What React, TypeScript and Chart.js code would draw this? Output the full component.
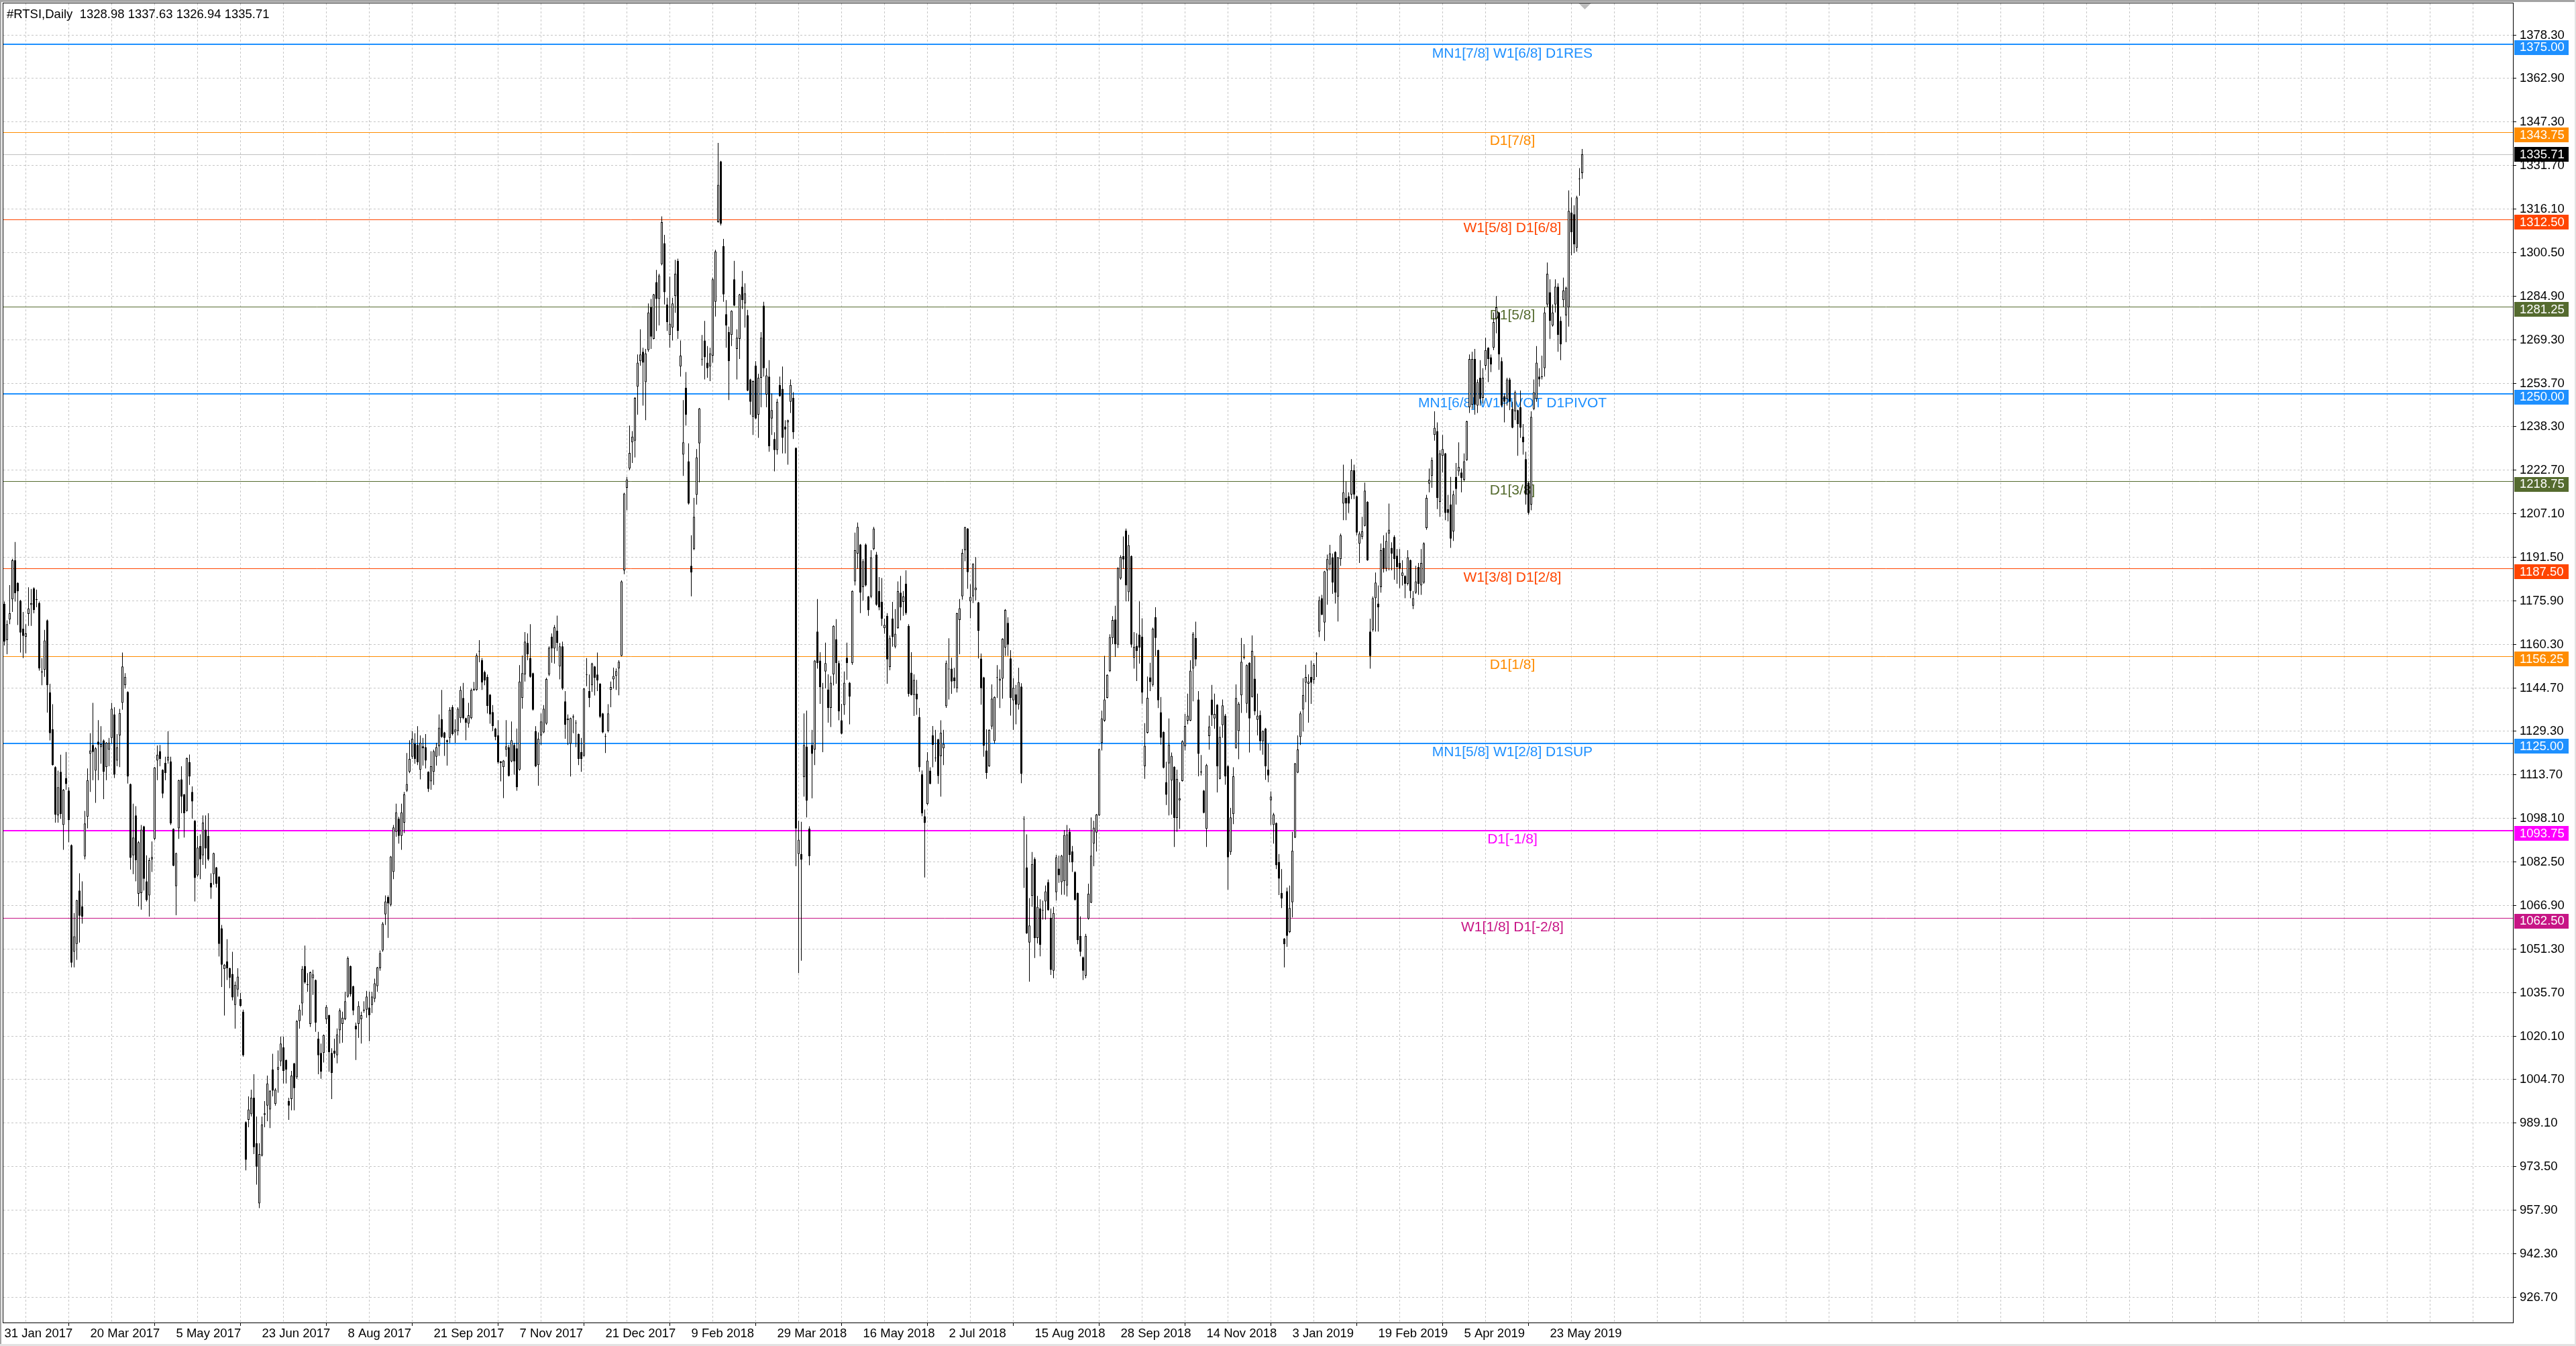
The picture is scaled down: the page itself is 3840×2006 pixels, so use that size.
import { useEffect, useRef } from "react";
import { Chart, registerables } from "chart.js";

Chart.register(...registerables);

// ---------- data ----------
const symbol = "#RTSI";
const period = "Daily";

// daily candles, 31 Jan 2017 .. mid Jun 2019
const opens = [
  1174.9, 1161.9, 1169.3, 1176.5, 1190.5, 1182.4, 1176.0, 1166.0, 1163.1, 1171.3, // 0
  1174.5, 1180.4, 1176.5, 1175.2, 1150.4, 1151.3, 1169.0, 1143.2, 1130.0, 1116.5, // 10
  1099.2, 1114.8, 1095.8, 1112.6, 1108.1, 1088.6, 1050.4, 1053.2, 1072.3, 1066.7, // 20
  1084.5, 1098.7, 1121.2, 1124.4, 1115.2, 1125.6, 1123.6, 1126.0, 1116.5, 1122.7, // 30
  1126.9, 1135.3, 1118.8, 1127.8, 1139.5, 1145.8, 1143.4, 1110.4, 1084.9, 1099.2, // 40
  1071.2, 1071.4, 1095.3, 1075.6, 1070.6, 1083.5, 1090.8, 1118.8, 1122.2, 1115.5, // 50
  1118.0, 1118.8, 1118.5, 1094.4, 1073.9, 1094.6, 1112.1, 1106.7, 1100.8, 1118.2, // 60
  1107.6, 1097.3, 1077.8, 1088.2, 1084.9, 1094.1, 1091.9, 1075.1, 1078.2, 1080.6, // 70
  1077.3, 1058.8, 1044.2, 1047.0, 1044.5, 1042.5, 1031.4, 1036.9, 1033.5, 1029.0, // 80
  989.5, 990.3, 992.3, 998.2, 981.9, 960.4, 977.5, 992.1, 995.4, 994.0, // 90
  1008.3, 996.0, 1008.3, 1011.2, 1016.2, 1011.7, 997.0, 997.7, 1010.5, 1005.5, // 100
  1025.6, 1031.9, 1045.3, 1038.6, 1024.6, 1041.0, 1040.3, 1019.3, 1014.2, 1014.2, // 110
  1026.3, 1027.7, 1014.2, 1015.0, 1013.4, 1022.3, 1024.6, 1026.3, 1034.4, 1045.3, // 120
  1038.1, 1024.0, 1024.6, 1026.3, 1029.4, 1029.7, 1030.5, 1031.4, 1033.6, 1038.1, // 130
  1044.5, 1050.9, 1063.8, 1070.0, 1067.2, 1079.0, 1093.3, 1098.0, 1091.9, 1096.6, // 140
  1108.1, 1114.8, 1120.2, 1124.9, 1124.4, 1115.5, 1123.9, 1123.6, 1114.8, 1111.4, // 150
  1114.8, 1120.2, 1123.9, 1133.6, 1128.9, 1126.1, 1126.9, 1137.9, 1128.9, 1129.4, // 160
  1134.0, 1141.2, 1134.0, 1132.0, 1134.0, 1144.0, 1144.1, 1157.8, 1154.7, 1150.5, // 170
  1148.8, 1142.4, 1136.2, 1130.3, 1127.8, 1118.5, 1116.5, 1122.7, 1123.6, 1118.5, // 180
  1124.4, 1123.2, 1115.5, 1141.2, 1149.6, 1160.9, 1155.5, 1150.1, 1129.4, 1117.2, // 190
  1127.8, 1128.9, 1132.0, 1149.6, 1163.1, 1158.9, 1165.3, 1152.5, 1159.7, 1140.0, // 200
  1133.3, 1124.9, 1134.3, 1132.1, 1128.3, 1121.9, 1120.5, 1149.4, 1143.7, 1145.8, // 210
  1152.5, 1149.6, 1146.3, 1135.7, 1127.6, 1129.4, 1144.1, 1147.9, 1149.1, 1151.8, // 220
  1156.3, 1186.9, 1216.4, 1223.3, 1232.7, 1233.3, 1252.6, 1261.7, 1265.1, 1254.2, // 230
  1265.7, 1281.0, 1269.7, 1290.0, 1284.0, 1296.4, 1303.9, 1282.0, 1271.1, 1273.7, // 240
  1285.0, 1297.6, 1259.8, 1228.3, 1252.2, 1225.9, 1188.5, 1194.5, 1213.9, 1232.3, // 250
  1262.3, 1269.1, 1261.2, 1259.8, 1263.7, 1283.0, 1311.5, 1333.2, 1302.9, 1278.5, // 260
  1272.1, 1271.1, 1291.0, 1266.1, 1269.7, 1288.4, 1282.4, 1278.1, 1255.2, 1241.8, // 270
  1260.1, 1242.6, 1255.8, 1281.6, 1249.8, 1256.2, 1241.2, 1233.9, 1229.9, 1253.2, // 280
  1251.8, 1238.3, 1239.8, 1247.2, 1248.6, 1230.7, 1085.4, 1085.4, 1112.9, 1123.8, // 290
  1094.5, 1124.4, 1122.8, 1165.0, 1154.6, 1144.9, 1150.7, 1144.3, 1137.7, 1149.7, // 300
  1162.2, 1153.7, 1133.2, 1138.7, 1155.6, 1146.7, 1153.7, 1182.9, 1192.9, 1196.1, // 310
  1180.9, 1196.1, 1177.5, 1177.5, 1194.5, 1192.5, 1179.5, 1175.6, 1166.2, 1170.6, // 320
  1152.3, 1169.6, 1159.6, 1166.2, 1178.9, 1175.6, 1182.1, 1167.0, 1150.3, 1142.3, // 330
  1142.7, 1134.4, 1113.9, 1098.9, 1103.3, 1115.2, 1127.8, 1119.6, 1126.4, 1120.4, // 340
  1123.2, 1138.3, 1151.5, 1151.7, 1148.6, 1144.7, 1169.1, 1177.6, 1194.1, 1201.8, // 350
  1175.8, 1177.6, 1179.8, 1175.4, 1155.3, 1148.6, 1122.4, 1116.8, 1131.0, 1125.8, // 360
  1148.4, 1147.4, 1148.1, 1159.3, 1168.1, 1155.4, 1140.4, 1142.5, 1138.8, 1145.3, // 370
  1097.9, 1080.6, 1053.7, 1070.4, 1083.6, 1055.3, 1065.9, 1065.3, 1068.4, 1075.3, // 380
  1062.6, 1043.6, 1071.7, 1080.2, 1075.3, 1075.7, 1074.1, 1093.4, 1086.3, 1079.0, // 390
  1071.4, 1056.1, 1048.5, 1041.9, 1062.3, 1068.0, 1089.1, 1093.1, 1099.2, 1125.1, // 400
  1133.1, 1141.3, 1150.8, 1162.7, 1169.3, 1160.3, 1184.0, 1192.0, 1201.1, 1179.1, // 410
  1192.0, 1155.6, 1159.9, 1163.9, 1163.2, 1116.8, 1128.8, 1148.6, 1145.9, 1170.1, // 420
  1158.3, 1136.1, 1129.0, 1111.1, 1117.8, 1111.7, 1116.6, 1098.3, 1104.6, 1111.5, // 430
  1123.9, 1133.1, 1133.1, 1151.7, 1162.7, 1140.7, 1114.6, 1108.1, 1094.4, 1127.6, // 440
  1140.7, 1133.9, 1138.8, 1112.3, 1131.5, 1134.9, 1116.8, 1086.1, 1099.7, 1123.3, // 450
  1129.4, 1142.2, 1155.7, 1139.2, 1153.8, 1141.6, 1148.1, 1133.4, 1135.1, 1125.7, // 460
  1130.3, 1115.6, 1104.6, 1095.8, 1096.5, 1082.6, 1071.5, 1055.1, 1072.1, 1057.5, // 470
  1068.1, 1091.3, 1114.5, 1127.2, 1137.1, 1146.7, 1146.3, 1148.7, 1147.7, 1156.8, // 480
  1165.0, 1176.9, 1168.2, 1186.9, 1188.9, 1191.5, 1193.5, 1177.5, 1190.9, 1210.8, // 490
  1212.8, 1213.4, 1214.0, 1222.7, 1213.4, 1196.4, 1198.8, 1202.8, 1211.4, 1165.0, // 500
  1165.6, 1176.9, 1175.0, 1180.9, 1194.9, 1187.5, 1200.0, 1194.9, 1198.8, 1192.1, // 510
  1189.5, 1184.9, 1184.9, 1182.1, 1190.5, 1174.2, 1178.9, 1188.1, 1181.5, 1182.5, // 520
  1202.0, 1217.9, 1220.7, 1235.3, 1236.7, 1211.4, 1227.9, 1228.7, 1208.8, 1210.4, // 530
  1200.8, 1220.3, 1222.3, 1221.9, 1219.3, 1226.3, 1245.2, 1246.2, 1262.5, 1245.8, // 540
  1255.8, 1248.6, 1260.1, 1266.5, 1263.1, 1266.5, 1277.0, 1279.1, 1261.7, 1249.2, // 550
  1248.2, 1255.2, 1244.6, 1243.8, 1244.2, 1245.2, 1234.7, 1226.7, 1218.3, 1210.4, // 560
  1244.6, 1248.2, 1256.2, 1256.0, 1259.2, 1282.0, 1286.4, 1274.5, 1282.0, 1288.4, // 570
  1276.1, 1283.6, 1278.1, 1281.0, 1314.9, 1314.3, 1302.3, 1326.8, 1328.98, // 580
];

const highs = [
  1175.7, 1169.0, 1181.6, 1191.0, 1197.0, 1182.6, 1176.3, 1172.0, 1167.6, 1180.8, // 0
  1180.2, 1180.8, 1180.0, 1175.7, 1155.5, 1165.6, 1169.3, 1146.3, 1139.0, 1116.8, // 10
  1115.2, 1120.9, 1108.6, 1121.9, 1109.3, 1088.8, 1064.3, 1069.0, 1078.5, 1075.6, // 20
  1100.8, 1116.0, 1128.6, 1139.5, 1123.6, 1133.3, 1131.1, 1126.4, 1125.4, 1126.9, // 30
  1139.5, 1137.9, 1128.3, 1137.3, 1157.5, 1150.1, 1143.6, 1110.6, 1103.4, 1102.5, // 40
  1090.0, 1095.8, 1095.5, 1084.9, 1084.0, 1089.9, 1116.5, 1124.2, 1124.4, 1115.7, // 50
  1120.2, 1129.3, 1120.2, 1094.6, 1085.9, 1112.0, 1116.8, 1106.9, 1119.9, 1121.0, // 60
  1109.6, 1097.5, 1091.9, 1092.4, 1099.2, 1099.2, 1100.0, 1078.5, 1085.9, 1080.8, // 70
  1077.5, 1060.0, 1046.0, 1054.9, 1044.7, 1050.4, 1039.8, 1044.5, 1035.7, 1029.7, // 80
  989.7, 998.7, 1001.1, 1006.6, 991.5, 981.9, 991.5, 997.0, 1006.1, 1000.9, // 90
  1013.9, 1001.6, 1015.1, 1020.1, 1020.1, 1011.9, 998.2, 1007.8, 1010.7, 1026.0, // 100
  1031.4, 1045.3, 1052.6, 1042.8, 1043.3, 1044.0, 1040.5, 1021.8, 1017.6, 1020.8, // 110
  1031.4, 1027.9, 1015.9, 1019.3, 1023.0, 1030.2, 1029.0, 1036.1, 1048.7, 1045.5, // 120
  1038.3, 1025.1, 1032.7, 1029.0, 1032.7, 1036.4, 1036.1, 1036.1, 1040.8, 1045.0, // 130
  1050.9, 1061.0, 1070.6, 1070.6, 1084.7, 1095.8, 1103.4, 1098.7, 1103.4, 1107.6, // 140
  1121.5, 1126.1, 1129.4, 1128.6, 1131.1, 1127.8, 1126.9, 1128.3, 1115.0, 1122.2, // 150
  1122.7, 1125.2, 1135.3, 1144.1, 1129.1, 1126.3, 1137.9, 1138.7, 1133.6, 1137.9, // 160
  1145.4, 1146.6, 1134.2, 1139.5, 1144.6, 1147.0, 1157.2, 1161.9, 1155.5, 1151.0, // 170
  1149.6, 1142.6, 1138.7, 1130.5, 1133.3, 1118.7, 1119.0, 1133.3, 1124.4, 1132.8, // 180
  1125.2, 1130.3, 1153.0, 1156.4, 1164.8, 1164.3, 1167.6, 1150.3, 1131.1, 1128.9, // 190
  1135.7, 1138.7, 1148.5, 1159.7, 1164.3, 1167.3, 1170.7, 1160.9, 1161.4, 1143.7, // 200
  1135.3, 1134.2, 1135.3, 1133.3, 1128.5, 1126.9, 1144.8, 1155.5, 1149.6, 1153.8, // 210
  1152.7, 1157.5, 1146.5, 1135.9, 1128.5, 1139.0, 1147.1, 1152.1, 1151.8, 1154.7, // 220
  1183.3, 1214.6, 1220.3, 1238.7, 1236.7, 1248.8, 1264.1, 1273.1, 1266.5, 1266.1, // 230
  1282.4, 1284.0, 1285.8, 1294.4, 1293.0, 1313.5, 1306.9, 1284.4, 1292.0, 1284.4, // 240
  1298.0, 1298.4, 1269.1, 1247.8, 1257.8, 1232.3, 1199.4, 1212.8, 1230.3, 1245.0, // 250
  1271.1, 1276.1, 1267.1, 1266.5, 1291.6, 1301.6, 1339.8, 1333.4, 1305.5, 1283.6, // 260
  1274.1, 1279.9, 1297.6, 1273.1, 1285.8, 1294.0, 1289.6, 1280.1, 1255.4, 1254.8, // 270
  1261.7, 1257.2, 1272.1, 1283.0, 1259.2, 1262.1, 1250.2, 1236.3, 1248.2, 1256.2, // 280
  1259.8, 1240.6, 1240.8, 1255.2, 1250.6, 1230.9, 1097.3, 1096.9, 1135.7, 1136.7, // 290
  1095.3, 1129.8, 1154.8, 1176.6, 1157.6, 1146.6, 1161.0, 1149.7, 1149.1, 1167.2, // 300
  1169.4, 1154.6, 1139.1, 1150.7, 1161.0, 1146.9, 1179.7, 1200.4, 1204.0, 1196.3, // 310
  1190.9, 1196.5, 1177.7, 1194.1, 1202.4, 1193.5, 1184.5, 1184.1, 1169.6, 1171.6, // 320
  1163.6, 1175.6, 1173.0, 1182.9, 1184.9, 1179.5, 1186.9, 1167.6, 1157.6, 1149.7, // 330
  1147.7, 1137.7, 1115.3, 1101.3, 1121.8, 1116.4, 1131.2, 1129.8, 1126.6, 1133.2, // 340
  1129.8, 1154.6, 1162.6, 1155.6, 1152.0, 1171.7, 1176.6, 1194.5, 1202.5, 1202.0, // 350
  1181.9, 1189.4, 1191.6, 1175.6, 1157.1, 1148.8, 1130.0, 1130.0, 1146.1, 1141.8, // 360
  1153.0, 1151.4, 1162.6, 1173.0, 1170.1, 1158.3, 1148.3, 1145.9, 1152.0, 1146.5, // 370
  1098.9, 1092.4, 1069.6, 1086.1, 1084.2, 1070.4, 1069.2, 1068.7, 1074.1, 1076.3, // 380
  1065.9, 1066.5, 1085.1, 1084.8, 1085.1, 1094.0, 1095.8, 1094.6, 1088.3, 1079.2, // 390
  1071.6, 1063.1, 1048.7, 1056.8, 1074.8, 1098.5, 1097.3, 1099.7, 1123.1, 1136.7, // 400
  1156.3, 1149.7, 1164.0, 1170.5, 1174.2, 1188.0, 1192.3, 1199.0, 1201.8, 1199.6, // 410
  1192.2, 1164.8, 1164.4, 1175.8, 1169.7, 1132.2, 1148.9, 1153.8, 1166.4, 1173.7, // 420
  1158.5, 1141.6, 1129.2, 1118.4, 1133.9, 1121.7, 1116.8, 1115.6, 1111.1, 1126.1, // 430
  1135.5, 1142.8, 1154.7, 1164.8, 1168.5, 1143.7, 1120.8, 1108.3, 1117.6, 1134.9, // 440
  1145.9, 1142.8, 1139.0, 1131.0, 1140.7, 1135.5, 1117.2, 1101.9, 1116.4, 1146.1, // 450
  1139.8, 1162.7, 1160.5, 1153.2, 1154.0, 1163.6, 1156.3, 1142.8, 1136.7, 1129.6, // 460
  1130.5, 1124.8, 1107.8, 1100.1, 1096.7, 1085.4, 1080.0, 1055.3, 1073.4, 1074.1, // 470
  1093.3, 1118.0, 1127.8, 1136.4, 1148.3, 1153.1, 1149.7, 1154.6, 1153.7, 1157.6, // 480
  1177.5, 1178.1, 1186.7, 1192.5, 1196.0, 1192.9, 1193.7, 1191.7, 1200.0, 1224.7, // 490
  1218.7, 1214.8, 1226.7, 1224.7, 1213.6, 1200.8, 1206.0, 1218.3, 1211.6, 1169.6, // 500
  1177.5, 1186.1, 1181.5, 1196.5, 1199.4, 1200.4, 1210.8, 1196.9, 1199.4, 1194.5, // 510
  1194.5, 1190.5, 1185.1, 1194.1, 1190.7, 1179.5, 1188.5, 1189.5, 1194.5, 1196.9, // 520
  1213.9, 1223.3, 1227.3, 1243.8, 1239.8, 1229.9, 1235.3, 1228.9, 1213.9, 1220.3, // 530
  1215.4, 1225.3, 1232.7, 1223.3, 1228.7, 1240.4, 1264.1, 1265.1, 1266.1, 1255.2, // 540
  1262.1, 1259.2, 1270.1, 1266.7, 1264.1, 1279.1, 1285.0, 1279.3, 1263.1, 1250.2, // 550
  1255.8, 1255.8, 1247.2, 1251.2, 1244.4, 1251.2, 1239.2, 1229.3, 1218.7, 1243.8, // 560
  1255.2, 1267.1, 1259.2, 1263.7, 1281.0, 1297.0, 1291.0, 1282.0, 1291.0, 1289.6, // 570
  1277.7, 1291.6, 1288.4, 1322.8, 1320.3, 1317.5, 1320.9, 1330.8, 1337.63, // 580
];

const lows = [
  1160.0, 1156.9, 1167.6, 1172.0, 1175.7, 1167.3, 1157.5, 1155.5, 1157.2, 1167.0, // 0
  1167.0, 1171.5, 1173.7, 1151.0, 1145.8, 1148.8, 1136.0, 1126.0, 1117.0, 1096.6, // 10
  1096.6, 1098.0, 1086.9, 1108.4, 1089.6, 1044.8, 1044.8, 1047.5, 1053.7, 1060.5, // 20
  1083.5, 1094.6, 1107.6, 1111.8, 1103.7, 1111.8, 1117.7, 1105.0, 1111.8, 1116.8, // 30
  1124.9, 1112.6, 1116.8, 1116.5, 1137.0, 1144.6, 1110.6, 1079.8, 1078.2, 1075.6, // 40
  1066.7, 1065.5, 1072.3, 1068.4, 1063.0, 1079.0, 1090.3, 1111.8, 1116.8, 1105.4, // 50
  1111.8, 1117.7, 1095.8, 1081.0, 1063.5, 1090.8, 1100.0, 1091.3, 1100.6, 1110.1, // 60
  1098.0, 1068.4, 1077.3, 1076.4, 1081.5, 1080.2, 1083.0, 1069.4, 1074.4, 1073.4, // 70
  1048.7, 1037.8, 1027.6, 1040.3, 1037.4, 1033.0, 1022.9, 1034.4, 1030.8, 1012.9, // 80
  972.2, 987.6, 991.5, 978.0, 967.1, 958.7, 977.2, 987.6, 989.8, 987.3, // 90
  998.7, 995.4, 1000.0, 1009.5, 1003.3, 1003.3, 990.3, 993.7, 993.7, 1004.9, // 100
  1022.9, 1027.6, 1039.0, 1036.1, 1023.5, 1035.0, 1021.8, 1006.6, 1005.0, 1010.8, // 110
  1024.6, 1007.5, 997.7, 1012.5, 1010.5, 1017.6, 1017.9, 1026.0, 1034.0, 1034.4, // 120
  1027.7, 1011.7, 1019.6, 1017.6, 1028.6, 1026.8, 1018.4, 1028.5, 1032.4, 1036.1, // 130
  1043.6, 1050.4, 1060.0, 1055.4, 1066.7, 1076.4, 1091.6, 1089.1, 1086.9, 1092.9, // 140
  1107.6, 1114.3, 1119.4, 1117.7, 1117.2, 1112.1, 1117.0, 1116.0, 1107.6, 1108.4, // 150
  1110.1, 1117.0, 1120.5, 1126.9, 1120.5, 1117.0, 1125.2, 1127.8, 1125.2, 1127.8, // 160
  1132.3, 1133.6, 1126.1, 1130.6, 1133.6, 1143.8, 1143.8, 1154.0, 1144.1, 1145.8, // 170
  1135.7, 1132.0, 1129.4, 1126.1, 1117.7, 1111.4, 1105.4, 1120.2, 1113.1, 1118.2, // 180
  1113.8, 1108.0, 1115.2, 1137.4, 1147.1, 1154.7, 1148.5, 1136.7, 1116.5, 1109.8, // 190
  1124.4, 1128.6, 1131.6, 1149.1, 1153.8, 1153.5, 1158.0, 1147.9, 1144.1, 1126.6, // 200
  1124.4, 1113.1, 1128.6, 1123.6, 1117.2, 1114.8, 1120.2, 1145.4, 1137.9, 1143.4, // 210
  1142.1, 1143.7, 1134.0, 1128.6, 1121.5, 1128.9, 1137.9, 1144.6, 1144.1, 1142.2, // 220
  1156.1, 1185.5, 1208.4, 1222.7, 1225.3, 1227.3, 1242.6, 1260.1, 1245.8, 1240.6, // 230
  1265.1, 1266.1, 1269.5, 1272.5, 1274.5, 1296.0, 1282.0, 1272.5, 1266.5, 1269.1, // 240
  1279.0, 1269.7, 1256.2, 1220.7, 1238.7, 1210.4, 1177.6, 1194.1, 1210.4, 1218.4, // 250
  1260.1, 1255.2, 1255.8, 1254.6, 1261.2, 1277.7, 1311.3, 1310.3, 1283.0, 1266.5, // 260
  1247.8, 1267.1, 1281.4, 1255.2, 1262.5, 1280.4, 1273.7, 1251.0, 1242.6, 1235.3, // 270
  1241.0, 1234.3, 1245.2, 1256.2, 1245.2, 1229.3, 1235.3, 1222.3, 1228.3, 1249.0, // 280
  1228.7, 1228.7, 1224.7, 1243.2, 1233.9, 1081.0, 1042.8, 1047.2, 1105.9, 1098.5, // 290
  1081.4, 1105.3, 1117.2, 1151.7, 1139.1, 1121.8, 1144.7, 1132.4, 1130.8, 1145.7, // 300
  1146.3, 1133.2, 1128.2, 1135.2, 1147.7, 1131.8, 1153.1, 1181.5, 1187.5, 1171.6, // 310
  1176.0, 1181.1, 1170.6, 1176.9, 1194.1, 1174.2, 1172.6, 1167.0, 1164.2, 1146.3, // 320
  1151.1, 1159.6, 1159.0, 1166.0, 1169.0, 1170.6, 1171.0, 1141.7, 1142.1, 1134.8, // 330
  1135.2, 1114.8, 1098.9, 1077.0, 1102.9, 1110.3, 1116.4, 1118.4, 1110.5, 1105.9, // 340
  1117.2, 1137.7, 1140.7, 1142.7, 1144.7, 1143.2, 1156.9, 1176.4, 1190.1, 1180.3, // 350
  1169.7, 1175.2, 1176.1, 1155.4, 1138.8, 1120.2, 1112.3, 1116.6, 1130.0, 1124.9, // 360
  1141.2, 1137.6, 1141.0, 1156.3, 1156.3, 1134.9, 1129.8, 1131.8, 1137.1, 1110.7, // 370
  1073.3, 1056.8, 1039.7, 1066.5, 1048.2, 1053.4, 1048.8, 1061.9, 1061.9, 1065.1, // 380
  1042.1, 1040.9, 1068.7, 1075.1, 1070.8, 1070.8, 1070.2, 1082.4, 1079.0, 1068.7, // 390
  1053.1, 1048.8, 1040.3, 1040.9, 1061.9, 1067.8, 1081.0, 1086.3, 1099.0, 1122.4, // 400
  1132.7, 1141.1, 1150.5, 1160.5, 1155.9, 1159.1, 1183.5, 1187.4, 1175.8, 1175.8, // 410
  1159.3, 1151.7, 1147.3, 1153.5, 1139.2, 1112.3, 1128.5, 1143.7, 1145.3, 1156.3, // 420
  1137.6, 1124.5, 1116.0, 1102.9, 1099.2, 1099.5, 1087.9, 1093.4, 1094.4, 1111.3, // 430
  1122.4, 1131.8, 1132.9, 1140.0, 1152.6, 1113.2, 1113.5, 1099.9, 1087.9, 1122.7, // 440
  1131.2, 1130.2, 1107.4, 1112.1, 1127.0, 1110.2, 1072.6, 1085.1, 1096.1, 1123.1, // 450
  1119.3, 1135.9, 1155.0, 1135.9, 1121.7, 1141.4, 1135.1, 1127.8, 1122.4, 1120.9, // 460
  1111.9, 1111.1, 1095.8, 1089.1, 1080.0, 1070.7, 1066.1, 1044.8, 1052.2, 1057.1, // 470
  1062.7, 1091.1, 1114.3, 1124.4, 1129.2, 1139.7, 1132.4, 1139.1, 1146.3, 1148.7, // 480
  1163.0, 1170.8, 1161.6, 1174.6, 1186.9, 1178.5, 1175.0, 1168.6, 1188.5, 1204.8, // 490
  1204.8, 1207.4, 1212.4, 1212.4, 1199.4, 1189.5, 1198.0, 1202.6, 1190.3, 1151.7, // 500
  1165.0, 1165.0, 1165.0, 1178.9, 1186.1, 1186.5, 1186.9, 1186.9, 1183.5, 1182.1, // 510
  1180.5, 1181.5, 1176.9, 1181.5, 1176.9, 1173.0, 1178.5, 1178.1, 1178.1, 1182.1, // 520
  1201.4, 1214.8, 1216.4, 1233.3, 1208.8, 1206.0, 1221.9, 1204.8, 1204.4, 1194.9, // 530
  1197.4, 1210.4, 1220.7, 1214.8, 1218.7, 1226.1, 1243.2, 1244.6, 1242.6, 1243.2, // 540
  1245.8, 1246.6, 1258.6, 1254.2, 1257.8, 1265.7, 1271.7, 1258.6, 1245.2, 1239.8, // 550
  1245.8, 1244.2, 1237.7, 1240.6, 1227.9, 1234.3, 1228.3, 1210.4, 1206.8, 1208.4, // 560
  1244.2, 1247.2, 1252.6, 1255.2, 1256.2, 1281.0, 1269.7, 1274.1, 1279.1, 1265.1, // 570
  1262.1, 1281.0, 1268.5, 1274.1, 1299.6, 1300.4, 1300.9, 1320.9, 1326.94, // 580
];

const closes = [
  1161.4, 1167.6, 1171.5, 1190.5, 1178.7, 1179.4, 1164.6, 1163.4, 1164.3, 1173.2, // 0
  1175.2, 1172.7, 1176.3, 1151.8, 1150.7, 1161.8, 1145.8, 1128.6, 1117.2, 1099.5, // 10
  1109.3, 1099.7, 1108.4, 1110.4, 1097.5, 1046.5, 1055.9, 1068.9, 1063.3, 1063.0, // 20
  1096.3, 1111.8, 1122.4, 1121.9, 1123.2, 1124.5, 1124.7, 1114.8, 1125.2, 1125.2, // 30
  1137.4, 1113.8, 1123.5, 1135.8, 1152.5, 1148.8, 1113.1, 1084.0, 1091.3, 1083.2, // 40
  1089.6, 1094.1, 1076.5, 1068.9, 1083.2, 1084.3, 1116.3, 1120.9, 1119.4, 1107.0, // 50
  1114.3, 1120.2, 1096.3, 1081.2, 1085.7, 1111.8, 1105.9, 1100.0, 1119.7, 1113.1, // 60
  1104.2, 1076.8, 1087.7, 1083.5, 1096.6, 1087.4, 1083.5, 1073.4, 1085.7, 1074.8, // 70
  1053.2, 1045.8, 1045.8, 1044.5, 1041.1, 1034.1, 1038.6, 1041.5, 1031.0, 1013.4, // 80
  976.0, 994.0, 998.2, 980.5, 973.5, 978.0, 988.6, 992.6, 1003.3, 1000.7, // 90
  1000.7, 1001.1, 1009.2, 1017.6, 1007.8, 1008.3, 995.4, 1006.1, 1001.6, 1025.6, // 100
  1029.7, 1044.2, 1039.4, 1038.5, 1043.1, 1042.3, 1025.1, 1013.4, 1007.5, 1020.6, // 110
  1030.7, 1014.5, 1007.1, 1013.9, 1020.9, 1029.4, 1026.8, 1032.7, 1048.2, 1035.2, // 120
  1029.4, 1022.6, 1031.0, 1027.7, 1029.7, 1034.4, 1027.7, 1034.4, 1039.1, 1044.8, // 130
  1049.9, 1060.5, 1068.4, 1067.7, 1084.5, 1094.9, 1100.3, 1091.9, 1100.3, 1106.7, // 140
  1110.4, 1119.4, 1126.6, 1119.4, 1118.2, 1125.2, 1123.2, 1118.8, 1108.7, 1116.8, // 150
  1122.2, 1123.6, 1130.6, 1127.3, 1126.9, 1125.5, 1137.0, 1128.3, 1129.9, 1137.4, // 160
  1144.1, 1134.0, 1132.3, 1135.0, 1144.1, 1144.5, 1156.4, 1158.0, 1146.8, 1147.5, // 170
  1138.4, 1135.3, 1131.1, 1127.3, 1118.2, 1118.0, 1118.8, 1123.9, 1113.3, 1126.1, // 180
  1118.5, 1109.3, 1147.1, 1150.1, 1161.4, 1156.9, 1148.8, 1137.0, 1116.8, 1126.6, // 190
  1132.8, 1137.4, 1148.0, 1159.2, 1158.9, 1166.5, 1160.9, 1159.7, 1144.6, 1131.6, // 200
  1133.8, 1134.0, 1134.5, 1132.3, 1119.4, 1119.4, 1144.6, 1149.6, 1141.2, 1153.5, // 210
  1148.5, 1147.5, 1134.5, 1128.9, 1127.4, 1135.7, 1145.1, 1149.1, 1150.8, 1154.2, // 220
  1182.9, 1214.4, 1219.4, 1228.9, 1234.7, 1248.6, 1261.2, 1264.1, 1261.2, 1264.5, // 230
  1279.1, 1270.5, 1285.6, 1284.0, 1292.4, 1311.5, 1286.4, 1275.7, 1275.1, 1282.4, // 240
  1293.0, 1272.5, 1263.7, 1232.7, 1242.6, 1210.8, 1186.1, 1206.0, 1227.3, 1244.8, // 250
  1262.5, 1263.1, 1259.2, 1264.5, 1291.0, 1300.9, 1324.8, 1310.9, 1285.6, 1274.5, // 260
  1261.7, 1279.7, 1281.6, 1270.1, 1285.6, 1283.6, 1286.0, 1251.2, 1247.2, 1254.6, // 270
  1241.2, 1255.8, 1270.1, 1259.2, 1256.6, 1231.3, 1244.2, 1229.9, 1247.2, 1249.2, // 280
  1234.3, 1237.3, 1240.6, 1253.2, 1236.3, 1094.5, 1090.5, 1083.4, 1124.4, 1104.5, // 290
  1084.6, 1121.2, 1154.6, 1153.7, 1145.1, 1144.7, 1153.7, 1137.7, 1146.7, 1167.0, // 300
  1153.7, 1136.4, 1128.4, 1146.7, 1153.7, 1141.7, 1179.5, 1194.1, 1202.4, 1178.9, // 310
  1190.1, 1181.5, 1172.6, 1191.5, 1201.8, 1174.6, 1173.6, 1169.6, 1167.4, 1155.0, // 320
  1162.6, 1163.0, 1164.2, 1179.5, 1173.6, 1177.5, 1171.6, 1142.7, 1142.3, 1147.7, // 330
  1140.7, 1116.4, 1099.9, 1096.5, 1118.8, 1110.5, 1124.4, 1119.8, 1113.3, 1128.8, // 340
  1124.8, 1153.7, 1151.7, 1147.1, 1147.3, 1171.5, 1173.3, 1193.1, 1202.3, 1186.2, // 350
  1177.4, 1189.2, 1180.7, 1165.2, 1144.7, 1124.1, 1114.4, 1129.8, 1141.0, 1141.6, // 360
  1148.6, 1148.1, 1162.4, 1172.7, 1160.3, 1141.2, 1144.9, 1138.8, 1146.9, 1114.1, // 370
  1097.7, 1057.0, 1059.8, 1081.8, 1055.3, 1066.5, 1052.9, 1065.1, 1072.0, 1065.3, // 380
  1043.9, 1064.3, 1084.2, 1077.8, 1084.8, 1092.2, 1092.4, 1085.1, 1082.4, 1069.0, // 390
  1054.6, 1050.4, 1043.6, 1056.1, 1071.2, 1084.8, 1094.8, 1099.5, 1122.9, 1133.9, // 400
  1140.7, 1149.5, 1163.0, 1169.1, 1160.5, 1187.6, 1191.7, 1190.8, 1181.5, 1195.9, // 410
  1160.3, 1159.5, 1158.1, 1159.3, 1143.2, 1124.1, 1141.3, 1146.9, 1166.0, 1162.7, // 420
  1140.4, 1127.0, 1116.3, 1106.6, 1124.5, 1120.5, 1098.3, 1112.3, 1105.3, 1125.7, // 430
  1131.2, 1134.9, 1151.0, 1164.2, 1155.0, 1121.2, 1114.8, 1100.1, 1117.2, 1131.0, // 440
  1135.1, 1135.5, 1116.8, 1127.3, 1138.6, 1113.2, 1084.2, 1098.5, 1113.2, 1141.2, // 450
  1139.2, 1154.2, 1155.9, 1153.0, 1133.9, 1158.1, 1136.4, 1134.9, 1125.7, 1129.4, // 460
  1116.8, 1113.5, 1105.9, 1099.5, 1081.4, 1076.6, 1069.5, 1053.1, 1056.1, 1066.1, // 470
  1086.6, 1117.8, 1122.8, 1135.7, 1142.3, 1148.7, 1147.1, 1146.7, 1153.1, 1157.0, // 480
  1176.2, 1171.0, 1186.5, 1190.9, 1192.9, 1182.5, 1178.9, 1191.5, 1199.4, 1214.8, // 490
  1210.8, 1210.8, 1222.7, 1214.0, 1200.4, 1200.0, 1200.8, 1215.4, 1190.5, 1156.2, // 500
  1176.9, 1182.5, 1173.6, 1194.1, 1187.5, 1197.4, 1201.4, 1192.9, 1190.9, 1188.1, // 510
  1187.5, 1186.1, 1182.1, 1191.5, 1179.5, 1176.9, 1182.9, 1182.1, 1189.5, 1196.5, // 520
  1212.8, 1219.3, 1226.3, 1237.9, 1212.8, 1228.7, 1230.3, 1207.4, 1207.4, 1198.2, // 530
  1214.0, 1216.0, 1223.9, 1219.9, 1225.9, 1240.2, 1262.5, 1262.5, 1246.2, 1254.2, // 540
  1248.2, 1255.8, 1265.7, 1262.5, 1260.5, 1275.7, 1281.0, 1264.1, 1245.8, 1247.2, // 550
  1255.2, 1247.2, 1237.9, 1250.6, 1239.2, 1237.9, 1232.7, 1214.0, 1207.4, 1241.8, // 560
  1250.6, 1261.2, 1255.2, 1256.2, 1279.1, 1293.0, 1276.1, 1279.1, 1288.4, 1271.1, // 570
  1267.7, 1287.0, 1288.0, 1315.5, 1307.9, 1303.5, 1320.3, 1327.0, 1335.71, // 580
];

// one date label every 32 bars, starting with bar 0
const dateLabels = [
  "31 Jan 2017", "20 Mar 2017", "5 May 2017", "23 Jun 2017", "8 Aug 2017",
  "21 Sep 2017", "7 Nov 2017", "21 Dec 2017", "9 Feb 2018", "29 Mar 2018",
  "16 May 2018", "2 Jul 2018", "15 Aug 2018", "28 Sep 2018", "14 Nov 2018",
  "3 Jan 2019", "19 Feb 2019", "5 Apr 2019", "23 May 2019",
];
const barsPerLabel = 32;
const barsPerGrid = 16;

const priceTicks = [
  1378.3, 1362.9, 1347.3, 1331.7, 1316.1, 1300.5, 1284.9, 1269.3, 1253.7, 1238.3,
  1222.7, 1207.1, 1191.5, 1175.9, 1160.3, 1144.7, 1129.3, 1113.7, 1098.1, 1082.5,
  1066.9, 1051.3, 1035.7, 1020.1, 1004.7, 989.1, 973.5, 957.9, 942.3, 926.7,
];

// Murrey-style levels drawn as horizontal lines
const levelValues = [1375, 1343.75, 1312.5, 1281.25, 1250, 1218.75, 1187.5, 1156.25, 1125, 1093.75, 1062.5];
const levelNames = [
  "MN1[7/8] W1[6/8] D1RES",
  "D1[7/8]",
  "W1[5/8] D1[6/8]",
  "D1[5/8]",
  "MN1[6/8] W1PIVOT D1PIVOT",
  "D1[3/8]",
  "W1[3/8] D1[2/8]",
  "D1[1/8]",
  "MN1[5/8] W1[2/8] D1SUP",
  "D1[-1/8]",
  "W1[1/8] D1[-2/8]",
];

// ---------- look ----------
const levelColors = [
  "#1E90FF", "#FF8C00", "#FF4500", "#556B2F", "#1E90FF", "#556B2F",
  "#FF4500", "#FF8C00", "#1E90FF", "#FF00FF", "#C71585",
];
const levelWidths = [2, 1, 1, 1, 2, 1, 1, 1, 2, 2, 1];

const W = 3840;
const H = 2006;
const FONT = "'Liberation Sans', Arial, sans-serif";
const PLOT_LEFT = 5;
const PLOT_TOP = 5;
const PLOT_RIGHT = 3747;
const PLOT_BOTTOM = 1972;
const PX_PER_BAR = 4;
const X_MIN = -0.375;
const X_MAX = X_MIN + (PLOT_RIGHT - PLOT_LEFT) / PX_PER_BAR;
const Y_MIN = 917.53;
const Y_MAX = 1389.74;
const GRID = "#c6c6c6";
const NAME_AT_BAR = 562;
const CLEAR = "rgba(0,0,0,0)";

function dateFor(v: number) {
  if (v % barsPerLabel !== 0) return "";
  return dateLabels[v / barsPerLabel] ?? "";
}

const mt4Plugin = {
  id: "mt4",
  beforeDraw(chart: any) {
    const { ctx } = chart;
    ctx.save();
    ctx.fillStyle = "#ffffff";
    ctx.fillRect(0, 0, W, H);
    ctx.fillStyle = "#a4a4a4";
    ctx.fillRect(0, 0, W, 3);
    ctx.fillRect(0, 0, 2, H);
    ctx.fillStyle = "#e2e2e2";
    ctx.fillRect(0, H - 3, W, 3);
    ctx.fillRect(W - 2, 0, 2, H);
    ctx.restore();
  },
  beforeDatasetsDraw(chart: any) {
    const { ctx, chartArea: a, scales } = chart;
    const xs = scales.x;
    const ys = scales.y;
    ctx.save();
    ctx.beginPath();
    ctx.rect(a.left, a.top, a.right - a.left, a.bottom - a.top);
    ctx.clip();

    // bid line
    const bidY = Math.round(ys.getPixelForValue(closes[closes.length - 1])) + 0.5;
    ctx.strokeStyle = "#c0c0c0";
    ctx.lineWidth = 1;
    ctx.beginPath();
    ctx.moveTo(a.left, bidY);
    ctx.lineTo(a.right, bidY);
    ctx.stroke();

    ctx.font = `21px ${FONT}`;
    ctx.textAlign = "center";
    ctx.textBaseline = "alphabetic";
    const nameX = xs.getPixelForValue(NAME_AT_BAR);
    levelValues.forEach((v, i) => {
      const py = ys.getPixelForValue(v);
      const w = levelWidths[i];
      const ly = w % 2 ? Math.round(py) + 0.5 : Math.round(py);
      ctx.strokeStyle = levelColors[i];
      ctx.lineWidth = w;
      ctx.beginPath();
      ctx.moveTo(a.left, ly);
      ctx.lineTo(a.right, ly);
      ctx.stroke();
      ctx.fillStyle = levelColors[i];
      ctx.fillText(levelNames[i], nameX, py + 19.5);
    });
    ctx.restore();
  },
  afterDraw(chart: any) {
    const { ctx, chartArea: a, scales } = chart;
    const ys = scales.y;
    const n = closes.length - 1;
    ctx.save();

    // plot frame
    ctx.strokeStyle = "#000";
    ctx.lineWidth = 1;
    ctx.strokeRect(a.left - 0.5, a.top - 0.5, a.right - a.left, a.bottom - a.top);

    // chart-shift marker
    const tx = scales.x.getPixelForValue(closes.length);
    ctx.fillStyle = "#bdbdbd";
    ctx.beginPath();
    ctx.moveTo(tx - 9, a.top);
    ctx.lineTo(tx + 9, a.top);
    ctx.lineTo(tx, a.top + 9);
    ctx.closePath();
    ctx.fill();

    // header
    ctx.font = `18.5px ${FONT}`;
    ctx.textAlign = "left";
    ctx.textBaseline = "middle";
    ctx.fillStyle = "#000";
    const head = `${symbol},${period}  ${opens[n].toFixed(2)} ${highs[n].toFixed(2)} ${lows[n].toFixed(2)} ${closes[n].toFixed(2)}`;
    ctx.fillText(head, 10, 22);

    // price boxes on the axis
    const box = (v: number, color: string, shift: number) => {
      const cy = ys.getPixelForValue(v) + shift;
      ctx.fillStyle = color;
      ctx.fillRect(a.right + 1, Math.round(cy - 11), 81, 22);
      ctx.fillStyle = "#fff";
      ctx.fillText(v.toFixed(2), a.right + 9, cy + 0.5);
    };
    levelValues.forEach((v, i) => box(v, levelColors[i], 4.5));
    box(closes[n], "#000", 0);
    ctx.restore();
  },
};

export default function App() {
  const canvasRef = useRef<HTMLCanvasElement>(null);
  const chartRef = useRef<Chart | null>(null);

  useEffect(() => {
    document.body.style.margin = "0";
    document.body.style.overflow = "hidden";
    if (!canvasRef.current) return;
    const ctx = canvasRef.current.getContext("2d");
    if (!ctx) return;
    if (chartRef.current) chartRef.current.destroy();

    const bodies = closes.map((c, i) => ({ x: i, y: [opens[i], c] }));
    const wicks = closes.map((_, i) => ({ x: i, y: [lows[i], highs[i]] }));

    const config: any = {
      type: "bar",
      data: {
        datasets: [
          {
            label: "body",
            data: bodies,
            order: 0,
            grouped: false,
            barThickness: 3,
            minBarLength: 1,
            inflateAmount: 0,
            borderSkipped: false,
            borderWidth: 1,
            borderColor: "#000",
            backgroundColor: (c: any) =>
              c.dataIndex !== undefined && closes[c.dataIndex] >= opens[c.dataIndex] ? "#fff" : "#000",
          },
          {
            label: "wick",
            data: wicks,
            order: 1,
            grouped: false,
            barThickness: 1,
            inflateAmount: 0,
            borderWidth: 0,
            backgroundColor: "#000",
          },
        ],
      },
      options: {
        responsive: false,
        animation: false,
        events: [],
        layout: { padding: { left: PLOT_LEFT, top: PLOT_TOP, right: 0, bottom: 0 } },
        plugins: { legend: { display: false }, tooltip: { enabled: false } },
        scales: {
          x: {
            type: "linear",
            min: X_MIN,
            max: X_MAX,
            offset: false,
            afterBuildTicks: (s: any) => {
              const t = [];
              for (let v = 0; v <= X_MAX; v += barsPerGrid) t.push({ value: v });
              s.ticks = t;
            },
            afterFit: (s: any) => {
              s.height = H - PLOT_BOTTOM;
              s.paddingLeft = 0;
              s.paddingRight = 0;
            },
            grid: {
              color: (c: any) => (c.tick && c.tick.value === 0 ? CLEAR : GRID),
              lineWidth: 1,
              drawTicks: true,
              tickLength: 4,
              tickWidth: 1,
              tickBorderDash: [],
              tickColor: (c: any) => (c.tick && dateFor(c.tick.value) ? "#000" : CLEAR),
            },
            border: { display: false, dash: [3, 3] },
            ticks: {
              autoSkip: false,
              maxRotation: 0,
              minRotation: 0,
              align: "start",
              padding: 1,
              color: "#000",
              font: { family: FONT, size: 18.5 },
              callback: (v: number) => dateFor(v),
            },
          },
          y: {
            type: "linear",
            position: "right",
            min: Y_MIN,
            max: Y_MAX,
            afterBuildTicks: (s: any) => {
              s.ticks = priceTicks.map((v) => ({ value: v }));
            },
            afterFit: (s: any) => {
              s.width = W - PLOT_RIGHT;
              s.paddingTop = 0;
              s.paddingBottom = 0;
            },
            grid: {
              color: GRID,
              lineWidth: 1,
              drawTicks: true,
              tickLength: 4,
              tickWidth: 1,
              tickBorderDash: [],
              tickColor: "#000",
            },
            border: { display: false, dash: [3, 3] },
            ticks: {
              autoSkip: false,
              padding: 5,
              color: "#000",
              font: { family: FONT, size: 18.5 },
              callback: (v: number) => Number(v).toFixed(2),
            },
          },
        },
      },
      plugins: [mt4Plugin],
    };

    chartRef.current = new Chart(ctx, config);

    return () => {
      if (chartRef.current) {
        chartRef.current.destroy();
        chartRef.current = null;
      }
    };
  }, []);

  return (
    <div style={{ width: W, height: H, position: "relative" }}>
      <canvas ref={canvasRef} width={W} height={H} style={{ display: "block", width: W, height: H }} />
    </div>
  );
}
